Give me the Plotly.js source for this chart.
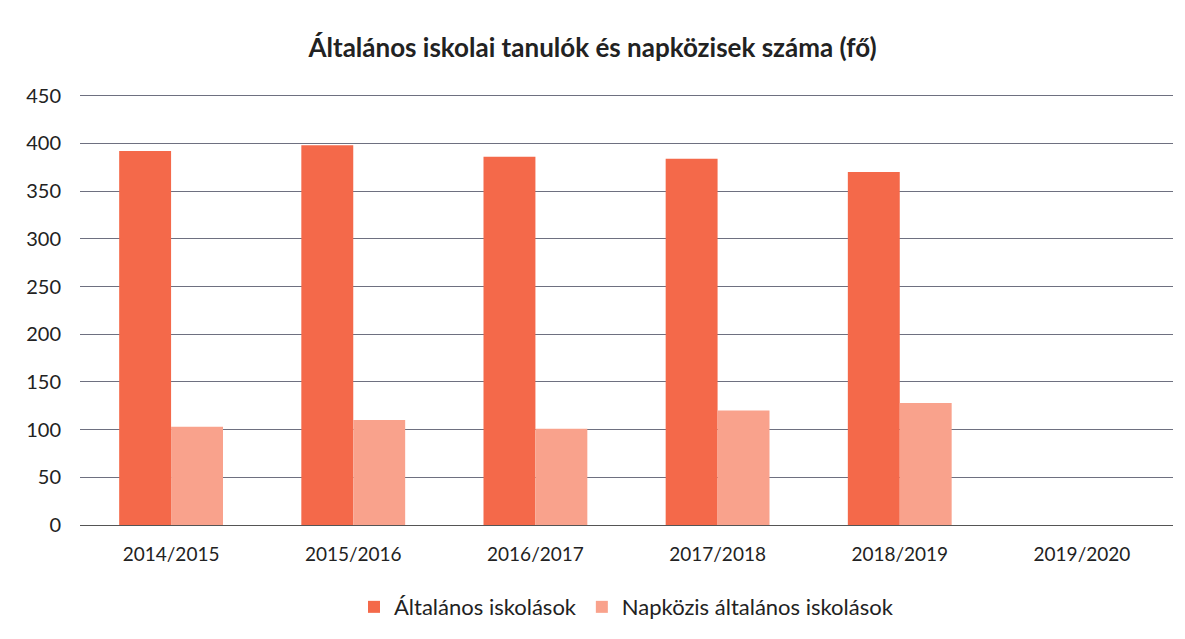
<!DOCTYPE html>
<html><head><meta charset="utf-8">
<script src="https://cdn.plot.ly/plotly-3.0.1.min.js"></script>
<style>body{margin:0;background:#fff}#c{width:1185px;height:639px}</style>
</head><body><div id="c"></div>
<script>
const categories = ["2014/2015","2015/2016","2016/2017","2017/2018","2018/2019","2019/2020"];
const altalanos = [392, 398, 386, 384, 370, null];
const napkozis = [103, 110, 101, 120, 128, null];
const seriesNames = ["Általános iskolások","Napközis általános iskolások"];
const tickVals = [0,50,100,150,200,250,300,350,400,450];

const data = [
  {type:"bar", x:categories, y:altalanos, name:seriesNames[0], marker:{color:"#F4694A"}},
  {type:"bar", x:categories, y:napkozis, name:seriesNames[1], marker:{color:"#F9A28C"}}
];
const layout = {
  width:1185, height:639,
  margin:{l:80, r:12, t:91, b:114},
  paper_bgcolor:"#fff", plot_bgcolor:"#fff",
  font:{family:"Lato, 'Open Sans', sans-serif", color:"#222", size:19},
  title:{text:"<b>Általános iskolai tanulók és napközisek száma (fő)</b>", x:0.5, xanchor:"center", yref:"container", y:0.925, yanchor:"middle", font:{size:26, color:"#222"}},
  barmode:"group", bargap:0.43, bargroupgap:0,
  xaxis:{type:"category", automargin:false, showline:true, linecolor:"#555", linewidth:1, ticks:"outside", ticklen:12, tickcolor:"rgba(0,0,0,0)", tickfont:{size:19}, showgrid:false},
  yaxis:{range:[0,455], automargin:false, tickvals:tickVals, showgrid:true, gridcolor:"#6e7080", gridwidth:1, zeroline:false, showline:false, tickfont:{size:20}, ticks:"outside", ticklen:14, tickcolor:"rgba(0,0,0,0)"},
  legend:{orientation:"h", x:0.5, xanchor:"center", yref:"container", y:0.05, yanchor:"middle", font:{size:22}, itemwidth:30, traceorder:"normal"},
  showlegend:true
};
Plotly.newPlot("c", data, layout, {displayModeBar:false, staticPlot:true});
</script></body></html>
